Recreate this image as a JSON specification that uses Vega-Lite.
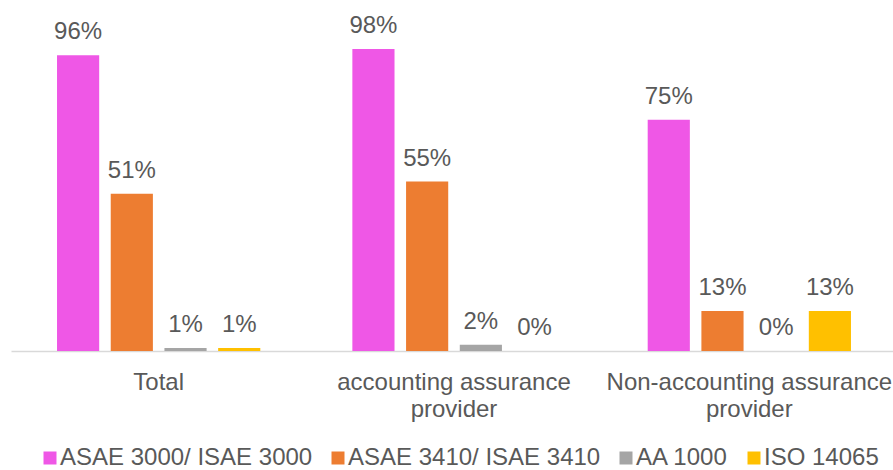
{
  "$schema": "https://vega.github.io/schema/vega-lite/v6.json",
  "width": 886,
  "height": 339,
  "autosize": {"type": "none"},
  "padding": {"left": 11, "top": 12, "right": 0, "bottom": 119},
  "config": {
    "font": "Liberation Sans",
    "view": {"stroke": null},
    "text": {"font": "Liberation Sans"}
  },
  "data": {
    "values": [
      {"group": "Total", "standard": "ASAE 3000/ ISAE 3000", "value": 0.96, "label": "96%"},
      {"group": "Total", "standard": "ASAE 3410/ ISAE 3410", "value": 0.51, "label": "51%"},
      {"group": "Total", "standard": "AA 1000", "value": 0.01, "label": "1%"},
      {"group": "Total", "standard": "ISO 14065", "value": 0.01, "label": "1%"},
      {"group": "accounting assurance provider", "standard": "ASAE 3000/ ISAE 3000", "value": 0.98, "label": "98%"},
      {"group": "accounting assurance provider", "standard": "ASAE 3410/ ISAE 3410", "value": 0.55, "label": "55%"},
      {"group": "accounting assurance provider", "standard": "AA 1000", "value": 0.02, "label": "2%"},
      {"group": "accounting assurance provider", "standard": "ISO 14065", "value": 0.0, "label": "0%"},
      {"group": "Non-accounting assurance provider", "standard": "ASAE 3000/ ISAE 3000", "value": 0.75, "label": "75%"},
      {"group": "Non-accounting assurance provider", "standard": "ASAE 3410/ ISAE 3410", "value": 0.13, "label": "13%"},
      {"group": "Non-accounting assurance provider", "standard": "AA 1000", "value": 0.0, "label": "0%"},
      {"group": "Non-accounting assurance provider", "standard": "ISO 14065", "value": 0.13, "label": "13%"}
    ]
  },
  "encoding": {
    "x": {
      "field": "group",
      "type": "nominal",
      "sort": ["Total", "accounting assurance provider", "Non-accounting assurance provider"],
      "scale": {"paddingInner": 0, "paddingOuter": 0},
      "axis": {
        "title": null,
        "labelAngle": 0,
        "ticks": false,
        "domainColor": "#d9d9d9",
        "domainWidth": 1.5,
        "labelFontSize": 24,
        "labelColor": "#595959",
        "labelPadding": 19,
        "labelLimit": 0,
        "labelLineHeight": 27,
        "labelExpr": "datum.value == 'Total' ? 'Total' : datum.value == 'accounting assurance provider' ? ['accounting assurance', 'provider'] : ['Non-accounting assurance', 'provider']"
      }
    },
    "xOffset": {
      "field": "standard",
      "type": "nominal",
      "sort": ["ASAE 3000/ ISAE 3000", "ASAE 3410/ ISAE 3410", "AA 1000", "ISO 14065"],
      "scale": {"paddingInner": 0.215, "paddingOuter": 0.857}
    },
    "y": {
      "field": "value",
      "type": "quantitative",
      "scale": {"domain": [0, 1.1]},
      "axis": null
    }
  },
  "layer": [
    {
      "mark": {"type": "bar"},
      "encoding": {
        "color": {
          "field": "standard",
          "type": "nominal",
          "scale": {
            "domain": ["ASAE 3000/ ISAE 3000", "ASAE 3410/ ISAE 3410", "AA 1000", "ISO 14065"],
            "range": ["#EF57E6", "#ED7D31", "#A5A5A5", "#FFC000"]
          },
          "legend": {
            "title": null,
            "orient": "none",
            "direction": "horizontal",
            "legendX": 27,
            "legendY": 434,
            "symbolType": "square",
            "symbolSize": 169,
            "symbolStrokeWidth": 0,
            "symbolOpacity": 1,
            "labelFontSize": 24,
            "labelColor": "#595959",
            "labelOffset": -2,
            "columnPadding": 13,
            "labelLimit": 0
          }
        }
      }
    },
    {
      "mark": {"type": "text", "baseline": "alphabetic", "dy": -16, "fontSize": 24, "color": "#595959"},
      "encoding": {
        "text": {"field": "label"}
      }
    }
  ]
}
